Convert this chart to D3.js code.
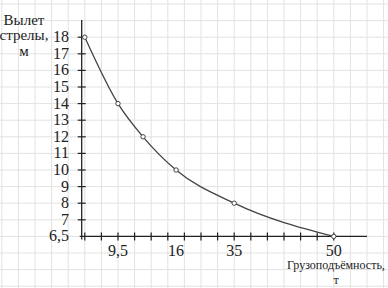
<!DOCTYPE html>
<meta charset="utf-8">
<body style="margin:0">
<script src="https://cdn.jsdelivr.net/npm/d3@7"></script>
<script>
// data: reach of the boom (m) vs lifting capacity (t)
var capacity = [6, 9.5, 12.3, 16, 35, 50];
var reach = [18, 14, 12, 10, 8, 6.5];
var xTickLabels = [9.5, 16, 35, 50];
var yTickValues = [7, 8, 9, 10, 11, 12, 13, 14, 15, 16, 17, 18];
var yOriginLabel = 6.5;

var width = 388, height = 288;
var cell = 16.6;          // grid step
var x0 = 84.8, yTop = 37.2;

var svg = d3.select("body").append("svg")
    .attr("width", width)
    .attr("height", height)
    .attr("font-family", "Liberation Serif")
    .style("display", "block")
    .style("background", "#fff");

// background grid
var grid = svg.append("g")
    .attr("stroke", "#e2e2e2")
    .attr("stroke-width", 1);
grid.selectAll(".v")
    .data(d3.range(-5, 19))
  .enter().append("line")
    .attr("x1", function(k) { return x0 + k * cell; })
    .attr("x2", function(k) { return x0 + k * cell; })
    .attr("y1", 0).attr("y2", height);
grid.selectAll(".h")
    .data(d3.range(-2, 16))
  .enter().append("line")
    .attr("y1", function(k) { return yTop + k * cell; })
    .attr("y2", function(k) { return yTop + k * cell; })
    .attr("x1", 0).attr("x2", width);

// scales (axes are schematic, so piecewise)
var x = d3.scaleLinear()
    .domain([6, 9.5, 16, 35, 50])
    .range([x0, x0 + 2 * cell, x0 + 5.5 * cell, x0 + 9 * cell, x0 + 15 * cell]);

var y = d3.scaleLinear()
    .domain([6.5, 7, 18])
    .range([yTop + 12 * cell, yTop + 11 * cell, yTop]);

var unit = d3.scaleLinear().domain([0, 15]).range([x0, x0 + 15 * cell]);

var fmt = d3.formatLocale({decimal: ",", thousands: " ", grouping: [3], currency: ["", ""]}).format("~g");

var axisY = 81.7, axisX = y(6.5);

// axes lines
svg.append("line")
    .attr("x1", axisY).attr("x2", axisY)
    .attr("y1", 20).attr("y2", axisX + 3)
    .attr("stroke", "#222").attr("stroke-width", 1.3);
svg.append("line")
    .attr("x1", axisY - 2).attr("x2", 367)
    .attr("y1", axisX).attr("y2", axisX)
    .attr("stroke", "#222").attr("stroke-width", 1.3);

// y ticks
svg.selectAll(".yt")
    .data(yTickValues)
  .enter().append("line")
    .attr("x1", axisY - 4).attr("x2", axisY + 4)
    .attr("y1", function(d) { return y(d); })
    .attr("y2", function(d) { return y(d); })
    .attr("stroke", "#222").attr("stroke-width", 1.2);

svg.selectAll(".yl")
    .data(yTickValues.concat([yOriginLabel]))
  .enter().append("text")
    .attr("x", 69)
    .attr("y", function(d) { return y(d) + 5; })
    .attr("text-anchor", "end")
    .attr("fill", "#222")
    .attr("font-size", 16)
    .text(function(d) { return fmt(d); });

// x ticks (every grid cell)
svg.selectAll(".xt")
    .data(d3.range(0, 16))
  .enter().append("line")
    .attr("x1", function(k) { return unit(k); })
    .attr("x2", function(k) { return unit(k); })
    .attr("y1", axisX - 4).attr("y2", axisX + 4)
    .attr("stroke", "#222").attr("stroke-width", 1.2);

svg.selectAll(".xl")
    .data(xTickLabels)
  .enter().append("text")
    .attr("x", function(d) { return x(d); })
    .attr("y", 256)
    .attr("text-anchor", "middle")
    .attr("fill", "#222")
    .attr("font-size", 16)
    .text(function(d) { return fmt(d); });

// axis titles
var yTitle = svg.append("text")
    .attr("text-anchor", "middle")
    .attr("fill", "#222")
    .attr("font-size", 15);
["Вылет", "стрелы,", "м"].forEach(function(t, i) {
  yTitle.append("tspan").attr("x", 24).attr("y", 24.5 + i * 15.5).text(t);
});

var xTitle = svg.append("text")
    .attr("text-anchor", "middle")
    .attr("fill", "#222")
    .attr("font-size", 12);
xTitle.append("tspan").attr("x", 336).attr("y", 269).text("Грузоподъёмность,");
xTitle.append("tspan").attr("x", 336).attr("y", 284).text("т");

// curve
var pts = capacity.map(function(c, i) { return [x(c), y(reach[i])]; });
svg.append("path")
    .attr("d", d3.line().curve(d3.curveMonotoneX)(pts))
    .attr("fill", "none")
    .attr("stroke", "#444")
    .attr("stroke-width", 1.3);

svg.selectAll(".pt")
    .data(pts)
  .enter().append("circle")
    .attr("cx", function(d) { return d[0]; })
    .attr("cy", function(d) { return d[1]; })
    .attr("r", 2.2)
    .attr("fill", "#fff")
    .attr("stroke", "#444")
    .attr("stroke-width", 1);
</script>
</body>
